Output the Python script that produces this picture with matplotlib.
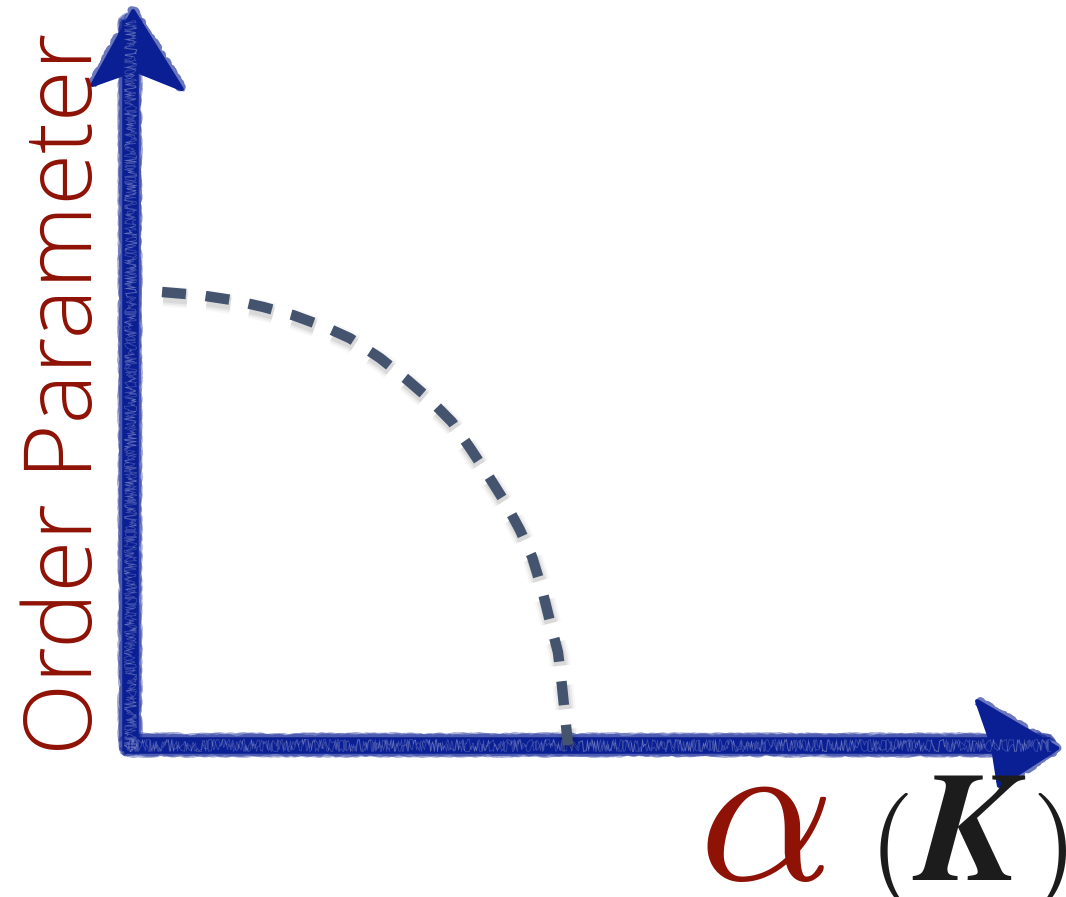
import numpy as np
import matplotlib
matplotlib.use("Agg")
import matplotlib.pyplot as plt
import matplotlib.patheffects as pe
from matplotlib.patches import Polygon

# order parameter vs coupling, vanishing at the critical point
alpha = [0.073, 0.160, 0.235, 0.304, 0.372, 0.445, 0.502, 0.571, 0.628, 0.683,
         0.735, 0.776, 0.817, 0.856, 0.890, 0.918, 0.941, 0.959, 0.977, 0.986,
         0.993, 1.000]
order = [1.000, 0.993, 0.982, 0.967, 0.949, 0.923, 0.898, 0.854, 0.810, 0.764,
         0.713, 0.656, 0.596, 0.536, 0.475, 0.415, 0.342, 0.272, 0.205, 0.132,
         0.066, 0.000]

ylabel = "Order Parameter"

AXIS_BLUE = "#0a1f94"
CURVE = "#44536e"
DARKRED = "#8e1205"
INK = "#1c1c1c"

plt.rcParams["mathtext.fontset"] = "cm"

fig = plt.figure(figsize=(10.66, 8.97), dpi=100)
ax = fig.add_axes([0, 0, 1, 1])
ax.set_xlim(-0.297, 2.137)
ax.set_ylim(-0.3355, 1.6446)
ax.axis("off")


def chalk_line(xs, ys, lw):
    # solid core with rough, chalky edges
    ax.plot(xs, ys, color=AXIS_BLUE, lw=lw * 0.85, solid_capstyle="butt",
            zorder=3)
    for i in range(3):
        ln, = ax.plot(xs, ys, color=AXIS_BLUE, lw=lw * (0.95 + 0.08 * i),
                      solid_capstyle="butt", alpha=0.35, zorder=3)
        ln.set_sketch_params(scale=2.0, length=5, randomness=25 + 12 * i)
    for i in range(2):
        ln, = ax.plot(xs, ys, color="white", lw=0.6, alpha=0.2, zorder=4)
        ln.set_sketch_params(scale=6, length=2, randomness=60 + 20 * i)


def chalk_head(pts, lw):
    ax.add_patch(Polygon(pts, closed=True, facecolor=AXIS_BLUE,
                         edgecolor=AXIS_BLUE, lw=3, joinstyle="round",
                         zorder=3))
    xs = [pts[1][0], pts[0][0], pts[3][0]]
    ys = [pts[1][1], pts[0][1], pts[3][1]]
    ln, = ax.plot(xs, ys, color=AXIS_BLUE, lw=lw, alpha=0.6,
                  solid_joinstyle="round", solid_capstyle="butt", zorder=3)
    ln.set_sketch_params(scale=1.8, length=5, randomness=30)


# axes as hand-drawn arrows
chalk_line([0, 0], [-0.014, 1.60], 14)
chalk_line([-0.014, 2.10], [0, 0], 14)
chalk_head([(0.007, 1.620), (-0.086, 1.457), (0.010, 1.490), (0.118, 1.448)], 6)
chalk_head([(2.117, -0.007), (1.934, 0.097), (1.970, -0.003), (1.984, -0.090)], 6)

# dashed curve with a soft drop shadow
shadow = [pe.SimpleLineShadow(offset=(1.0, -3), shadow_color="k", alpha=a,
                              linewidth=w)
          for a, w in [(0.03, 15), (0.05, 12), (0.07, 9)]]
ax.plot(alpha, order, color=CURVE, lw=7.5, linestyle=(0, (2.3, 1.9)),
        dash_capstyle="butt", zorder=5,
        path_effects=shadow + [pe.Normal()])

# labels
ax.text(0.108, 0.158, ylabel, transform=ax.transAxes, rotation=90,
        ha="right", va="bottom", color=DARKRED, fontsize=68,
        family="Open Sans", fontweight="light")
ax.text(0.655, 0.019, r"$\alpha$", transform=ax.transAxes,
        ha="left", va="baseline", color=DARKRED, fontsize=152)
ax.text(0.814, 0.019, r"$($", transform=ax.transAxes,
        ha="left", va="baseline", color=INK, fontsize=84)
ax.text(0.856, 0.019, r"$\boldsymbol{K}$", transform=ax.transAxes,
        ha="left", va="baseline", color=INK, fontsize=112)
ax.text(0.967, 0.019, r"$)$", transform=ax.transAxes,
        ha="left", va="baseline", color=INK, fontsize=84)

fig.savefig("out.png", dpi=100, facecolor="white")
